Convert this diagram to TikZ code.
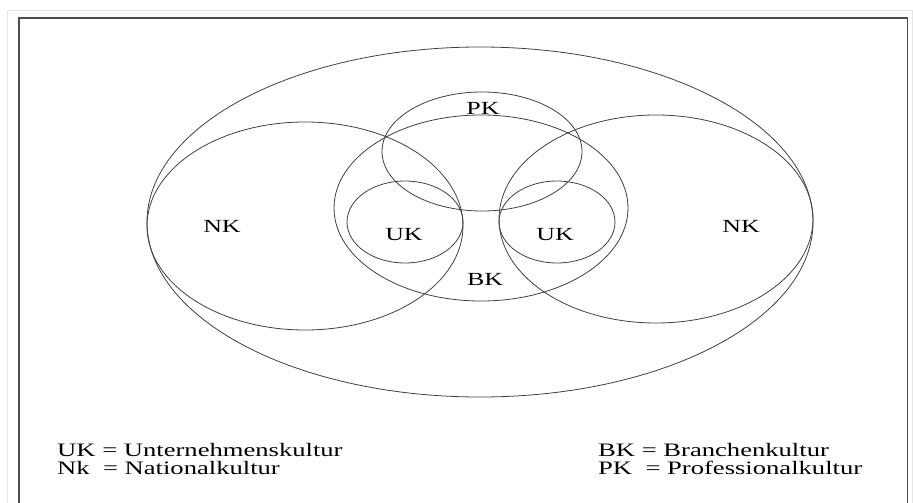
\documentclass[tikz,border=0pt]{standalone}
\usepackage{fontspec}
\setmainfont{Liberation Serif}[FakeStretch=1.4]
\begin{document}
\begin{tikzpicture}[x=1pt,y=-1pt]
  \tikzstyle{ring} = [draw=black!75, line width=.8pt]
  \tikzstyle{lbl} = [inner sep=0pt, anchor=base, font=\fontsize{18.5}{18}\selectfont]
  \tikzstyle{leg} = [lbl, anchor=base west, font=\fontsize{19}{18}\selectfont]
  %%
  \useasboundingbox (0,0) rectangle (913,503);
  \draw [black!10, line width=1pt] (7.5,10.5) rectangle (912.5,520);
  \draw [black!70, line width=1.6pt] (19,18) rectangle (907.5,520);
  %%
  \begin{scope}
    \path [ring] (480,222) ellipse [x radius=333, y radius=175];
    \path [ring] (305,226) ellipse [x radius=158, y radius=104];
    \path [ring] (656,219) ellipse [x radius=157, y radius=104];
    \path [ring] (481,208) ellipse [x radius=147, y radius=93];
    \path [ring] (482,151.5) ellipse [x radius=100, y radius=59.5];
    \path [ring] (405,222) ellipse [x radius=58, y radius=41];
    \path [ring] (557,222) ellipse [x radius=58, y radius=41];
    %%
    \node [lbl] (nkl) at (222,232) {NK};
    \node [lbl] (nkr) at (741,232) {NK};
    \node [lbl] (ukl) at (404,240) {UK};
    \node [lbl] (ukr) at (555,240) {UK};
    \node [lbl] (bk) at (485,285) {BK};
    \node [lbl] (pk) at (483,114) {PK};
  \end{scope}
  %%
  \node [leg] (leguk) at (57,456) {UK = Unternehmenskultur};
  \node [leg] (legnk) at (57,474) {Nk\ \ = Nationalkultur};
  \node [leg] (legbk) at (598,456) {BK = Branchenkultur};
  \node [leg] (legpk) at (598,474) {PK\ \ = Professionalkultur};
\end{tikzpicture}
\end{document}
